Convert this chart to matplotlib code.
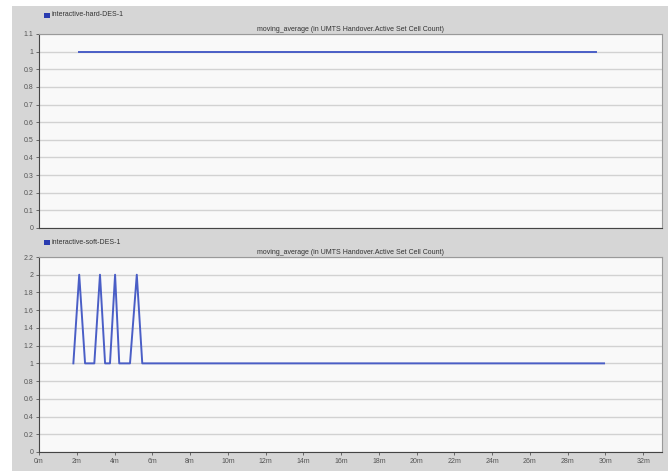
import numpy as np
import matplotlib.pyplot as plt
from matplotlib.patches import Rectangle

plt.rcParams['font.family'] = ['Liberation Sans', 'DejaVu Sans']

# series: time in minutes, active set cell count (moving average)
hard_t = [2.12, 29.5]
hard_v = [1.0, 1.0]
soft_t = [1.82, 2.13, 2.44, 2.93, 3.23, 3.50, 3.76, 4.03, 4.25, 4.82, 5.18, 5.47, 29.93]
soft_v = [1.0, 2.0, 1.0, 1.0, 2.0, 1.0, 1.0, 2.0, 1.0, 1.0, 2.0, 1.0, 1.0]

xticks = np.arange(0, 33, 2)
xlabels = ['%dm' % t for t in xticks]
title = 'moving_average (in UMTS Handover.Active Set Cell Count)'
line_col = '#4a5ec6'
bg = '#d6d6d6'

fig = plt.figure(figsize=(6.68, 4.71), dpi=100)
fig.patches.append(Rectangle((12/668, 0), 1, 465/471, transform=fig.transFigure,
                             facecolor=bg, edgecolor='none', zorder=-10))

W, H = 668.0, 471.0
def mkax(top, bottom):
    return fig.add_axes([39/W, 1-bottom/H, (662-39)/W, (bottom-top)/H])

ax1 = mkax(34, 228)
ax2 = mkax(257, 452)

panels = [(ax1, hard_t, hard_v, 1.1, np.arange(0, 1.11, 0.1), 'interactive-hard-DES-1', 15),
          (ax2, soft_t, soft_v, 2.2, np.arange(0, 2.21, 0.2), 'interactive-soft-DES-1', 242)]

for ax, t, v, ymax, yt, name, ly in panels:
    ax.set_facecolor('#f9f9f9')
    ax.plot(t, v, color=line_col, lw=1.4)
    ax.set_xlim(0, 33)
    ax.set_ylim(0, ymax)
    ax.set_yticks(yt)
    ax.set_yticklabels(['%g' % round(y, 1) for y in yt])
    ax.set_xticks(xticks)
    ax.grid(axis='y', color='#d2d2d2', lw=1.0)
    ax.set_axisbelow(True)
    ax.tick_params(labelsize=5, colors='#555555', length=2.5, width=0.6, pad=1.5)
    for s in ['top', 'right']:
        ax.spines[s].set_color('#9a9a9a')
    for s in ['left', 'bottom']:
        ax.spines[s].set_color('#444444')
    for s in ax.spines.values():
        s.set_linewidth(0.8)
    ax.set_title(title, fontsize=5, color='#333333', pad=2.5)
    # legend entry above the panel
    fig.patches.append(Rectangle((44/W, 1-(ly+3)/H), 5.5/W, 5.5/H, transform=fig.transFigure,
                                 facecolor='#2a3cb0', edgecolor='none'))
    fig.text(51/W, 1-ly/H, name, fontsize=5, color='#333333', va='center', ha='left')

ax1.tick_params(axis='x', length=0, labelbottom=False)
ax2.set_xticklabels(xlabels)

fig.savefig('out.png', dpi=100)
